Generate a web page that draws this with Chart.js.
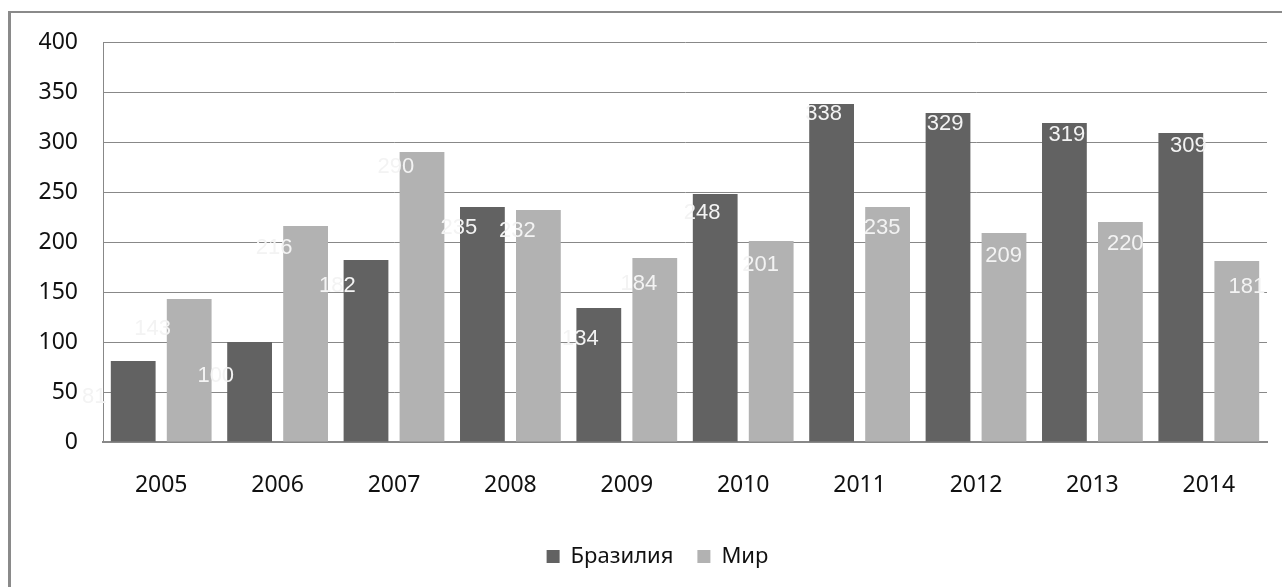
<!DOCTYPE html>
<html>
<head>
<meta charset="utf-8">
<script src="https://cdn.jsdelivr.net/npm/chart.js@4"></script>
<style>
html,body{margin:0;padding:0;background:#fff;}
canvas{display:block;}
</style>
</head>
<body>
<canvas id="c" width="1282" height="587"></canvas>
<script>
const categories = ['2005','2006','2007','2008','2009','2010','2011','2012','2013','2014'];
const brazil = [81, 100, 182, 235, 134, 248, 338, 329, 319, 309];
const world = [143, 216, 290, 232, 184, 201, 235, 209, 220, 181];
const seriesNames = ['Бразилия', 'Мир'];
const yTicks = [0, 50, 100, 150, 200, 250, 300, 350, 400];

const framePlugin = {
  id: 'frame',
  beforeDraw(chart) {
    const ctx = chart.ctx;
    ctx.save();
    ctx.fillStyle = '#fff';
    ctx.fillRect(0, 0, chart.width, chart.height);
    ctx.strokeStyle = '#8a8a8a';
    ctx.lineWidth = 2;
    ctx.beginPath();
    ctx.moveTo(8, 12);
    ctx.lineTo(chart.width, 12);
    ctx.stroke();
    ctx.lineWidth = 3;
    ctx.beginPath();
    ctx.moveTo(9.5, 11);
    ctx.lineTo(9.5, chart.height);
    ctx.stroke();
    ctx.restore();
  }
};

const legendShift = {
  id: 'legendShift',
  afterLayout(chart) {
    if (chart.legend) {
      chart.legend.left += 5;
      chart.legend.right += 5;
    }
  }
};

const labelPlugin = {
  id: 'valueLabels',
  afterDatasetsDraw(chart) {
    const ctx = chart.ctx;
    const area = chart.chartArea;
    const y220 = chart.scales.y.getPixelForValue(220);
    ctx.save();
    ctx.font = '22px "Liberation Sans", Arial, sans-serif';
    ctx.fillStyle = '#f3f3f3';
    ctx.textAlign = 'center';
    ctx.textBaseline = 'middle';
    chart.data.datasets.forEach((ds, di) => {
      const meta = chart.getDatasetMeta(di);
      meta.data.forEach((el, i) => {
        const rel = (el.x - area.left - 31) / (area.width - 62);
        const dx = -39 + 49 * rel;
        const dy = 22 + 0.1 * (el.y - y220);
        ctx.fillText(String(ds.data[i]), el.x + dx, el.y + dy);
      });
    });
    ctx.restore();
  }
};

new Chart(document.getElementById('c'), {
  type: 'bar',
  data: {
    labels: categories,
    datasets: [
      { label: seriesNames[0], data: brazil, backgroundColor: '#626262', borderWidth: 0 },
      { label: seriesNames[1], data: world, backgroundColor: '#b2b2b2', borderWidth: 0 }
    ]
  },
  options: {
    responsive: false,
    animation: false,
    devicePixelRatio: 1,
    layout: { padding: { left: 38, right: 15, top: 42, bottom: 9.5 } },
    datasets: { bar: { categoryPercentage: 0.962, barPercentage: 0.80 } },
    scales: {
      x: {
        grid: { display: false, drawTicks: false },
        border: { display: true, color: '#888', width: 2 },
        ticks: { color: '#111', font: { family: '"Noto Sans", sans-serif', size: 23 }, padding: 30, maxRotation: 0 },
        afterFit(scale) { scale.height = 79.5; }
      },
      y: {
        min: 0, max: 400,
        ticks: { stepSize: 50, color: '#111', font: { family: '"Noto Sans", sans-serif', size: 23 }, padding: 25 },
        afterBuildTicks(scale) { scale.ticks = yTicks.map(v => ({ value: v })); },
        grid: { color: '#888', lineWidth: 1, drawTicks: false },
        border: { display: true, color: '#888', width: 1 },
        afterFit(scale) { scale.width = 65; }
      }
    },
    plugins: {
      legend: {
        position: 'bottom',
        labels: {
          boxWidth: 13, boxHeight: 13, padding: 24, color: '#111',
          font: { family: '"Noto Sans", sans-serif', size: 22 }
        }
      },
      tooltip: { enabled: false }
    }
  },
  plugins: [framePlugin, legendShift, labelPlugin]
});
</script>
</body>
</html>
